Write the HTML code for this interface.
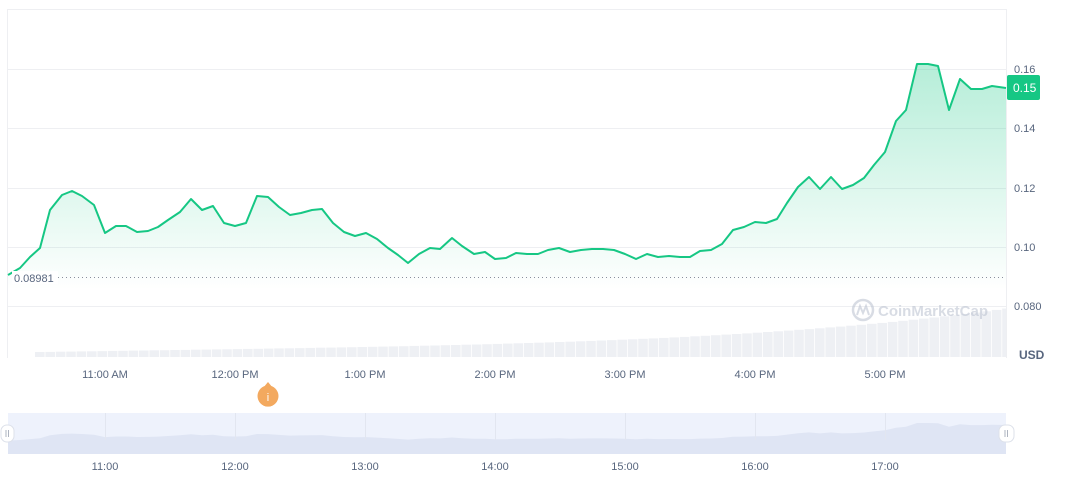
<!DOCTYPE html>
<html><head><meta charset="utf-8"><style>
html,body{margin:0;padding:0;background:#fff;width:1072px;height:477px;overflow:hidden}
svg{display:block;font-family:"Liberation Sans",sans-serif}
</style></head><body>
<svg width="1072" height="477" viewBox="0 0 1072 477">
<defs>
<linearGradient id="g" gradientUnits="userSpaceOnUse" x1="0" y1="60" x2="0" y2="290">
<stop offset="0" stop-color="#16c784" stop-opacity="0.32"/>
<stop offset="1" stop-color="#16c784" stop-opacity="0"/>
</linearGradient>
<clipPath id="c"><rect x="8" y="0" width="998" height="477"/></clipPath>
</defs>
<g stroke="#eeeff2" stroke-width="1">
<line x1="8" y1="9.5" x2="1006" y2="9.5"/>
<line x1="8" y1="69.5" x2="1006" y2="69.5"/>
<line x1="8" y1="128.5" x2="1006" y2="128.5"/>
<line x1="8" y1="188.5" x2="1006" y2="188.5"/>
<line x1="8" y1="247.5" x2="1006" y2="247.5"/>
<line x1="8" y1="306.5" x2="1006" y2="306.5"/>
<line x1="7.5" y1="9" x2="7.5" y2="358"/>
<line x1="1006.5" y1="9" x2="1006.5" y2="358"/>
</g>
<g id="bars" fill="#eef0f4" clip-path="url(#c)"></g>
<path id="area" fill="url(#g)"/>
<line x1="14" y1="277.5" x2="1006" y2="277.5" stroke="#8a8f9c" stroke-width="1" stroke-dasharray="1,3"/>
<path id="line" fill="none" stroke="#16c784" stroke-width="2" stroke-linejoin="round"/>
<rect x="12" y="271" width="46" height="13" fill="#fff"/>
<text x="14" y="282" font-size="11" fill="#58667e">0.08981</text>
<g opacity="0.55">
<circle cx="863" cy="310" r="10" fill="none" stroke="#b9c0cf" stroke-width="2.5"/>
<path d="M857 315 L860 306 L863 313 L866 306 L869 315" fill="none" stroke="#b9c0cf" stroke-width="2"/>
<text x="878" y="316" font-size="15" font-weight="bold" fill="#b9c0cf">CoinMarketCap</text>
</g>
<g font-size="11" fill="#58667e">
<text x="1014" y="73">0.16</text>
<text x="1014" y="132">0.14</text>
<text x="1014" y="192">0.12</text>
<text x="1014" y="251">0.10</text>
<text x="1014" y="310">0.080</text>
<text x="1019" y="359" font-weight="bold" font-size="12">USD</text>
</g>
<rect x="1007" y="75" width="33" height="25" rx="2" fill="#16c784"/>
<text x="1013" y="92" font-size="12" fill="#fff">0.15</text>
<g font-size="11" fill="#58667e" text-anchor="middle">
<text x="105" y="378">11:00 AM</text>
<text x="235" y="378">12:00 PM</text>
<text x="365" y="378">1:00 PM</text>
<text x="495" y="378">2:00 PM</text>
<text x="625" y="378">3:00 PM</text>
<text x="755" y="378">4:00 PM</text>
<text x="885" y="378">5:00 PM</text>
</g>
<path d="M268 382 L273 388 A10 10 0 1 1 263 388 Z" fill="#f3a95f"/>
<circle cx="268" cy="396" r="10.5" fill="#f3a95f"/>
<text x="268" y="401" font-size="11" fill="#fff" text-anchor="middle">i</text>
<rect x="8" y="413" width="998" height="41" fill="#eef2fc"/>
<path id="nav" fill="#dfe5f4"/>
<g stroke="#e2e6f0"><line x1="105.5" y1="413" x2="105.5" y2="440"/><line x1="235.5" y1="413" x2="235.5" y2="440"/><line x1="365.5" y1="413" x2="365.5" y2="440"/><line x1="495.5" y1="413" x2="495.5" y2="440"/><line x1="625.5" y1="413" x2="625.5" y2="440"/><line x1="755.5" y1="413" x2="755.5" y2="440"/><line x1="885.5" y1="413" x2="885.5" y2="440"/></g>
<rect x="1" y="425" width="13" height="17" rx="6" fill="#fff" stroke="#dde1ea"/>
<rect x="999" y="425" width="15" height="17" rx="6" fill="#fff" stroke="#dde1ea"/>
<g stroke="#9aa1b0" stroke-width="0.8"><line x1="6" y1="430" x2="6" y2="437"/><line x1="8.5" y1="430" x2="8.5" y2="437"/><line x1="1005" y1="430" x2="1005" y2="437"/><line x1="1007.5" y1="430" x2="1007.5" y2="437"/></g>
<g font-size="11" fill="#58667e" text-anchor="middle">
<text x="105" y="470">11:00</text><text x="235" y="470">12:00</text><text x="365" y="470">13:00</text><text x="495" y="470">14:00</text><text x="625" y="470">15:00</text><text x="755" y="470">16:00</text><text x="885" y="470">17:00</text>
</g>
</svg>
<script>
var p=[[8,275],[20,268],[30,257],[40,248],[50,210],[62,195],[72,191],[82,196],[94,205],[105,233],[116,226],[126,226],[137,232],[148,231],[158,227],[168,220],[180,212],[191,199],[202,210],[213,206],[224,223],[235,226],[246,223],[257,196],[268,197],[279,207],[290,215],[301,213],[312,210],[322,209],[333,223],[344,232],[355,236],[366,233],[377,239],[388,248],[398,255],[408,263],[419,254],[430,248],[440,249],[452,238],[462,246],[474,254],[485,252],[495,259],[506,258],[516,253],[527,254],[538,254],[548,250],[559,248],[570,252],[581,250],[592,249],[603,249],[614,250],[625,254],[636,259],[647,254],[658,257],[669,256],[680,257],[690,257],[700,251],[711,250],[722,244],[733,230],[744,227],[755,222],[766,223],[777,219],[787,203],[798,187],[809,177],[820,189],[831,177],[842,189],[853,185],[864,178],[874,165],[885,152],[896,121],[906,110],[917,64],[928,64],[938,66],[949,110],[960,79],[971,89],[982,89],[992,86],[1006,88]];
var d="M"+p.map(function(q){return q.join(",")}).join(" L");
document.getElementById("line").setAttribute("d",d);
document.getElementById("area").setAttribute("d",d+" L1006,358 L8,358 Z");
var n="M8,454 ";p.forEach(function(q){n+="L"+q[0]+","+(413+(q[1]-40)/240*20+8).toFixed(1)+" ";});n+="L1006,454 Z";
document.getElementById("nav").setAttribute("d",n);
var ns="http://www.w3.org/2000/svg",g=document.getElementById("bars");
for(var x=35;x<1006;x+=10.4){var t=(x-35)/971;var h=5+t*14+Math.pow(t,4)*30;var r=document.createElementNS(ns,"rect");r.setAttribute("x",x.toFixed(1));r.setAttribute("y",(357-h).toFixed(1));r.setAttribute("width","9.6");r.setAttribute("height",h.toFixed(1));g.appendChild(r);}
</script>
</body></html>
